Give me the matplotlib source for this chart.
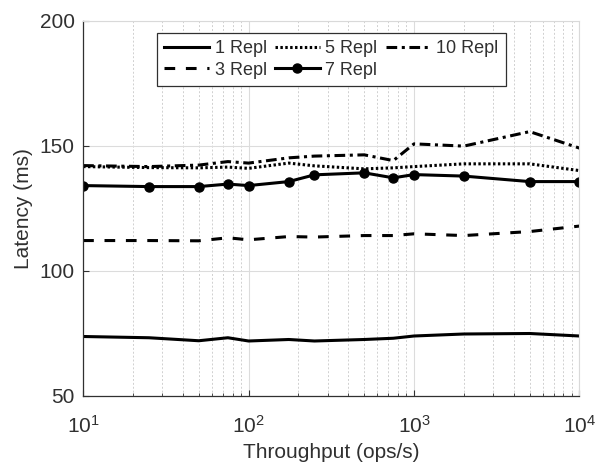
import matplotlib
matplotlib.use("Agg")
import matplotlib.pyplot as plt
from matplotlib.ticker import LogLocator, NullFormatter

plt.rcParams['font.family'] = ['Liberation Sans', 'DejaVu Sans']
plt.rcParams['mathtext.fontset'] = 'custom'
plt.rcParams['mathtext.rm'] = 'Liberation Sans'
plt.rcParams['mathtext.it'] = 'Liberation Sans:italic'

throughput = [10, 25, 50, 75, 100, 175, 250, 500, 750, 1000, 2000, 5000, 10000]
lat_1 = [73.7, 73.2, 72.0, 73.2, 71.9, 72.5, 71.9, 72.5, 73.0, 73.9, 74.7, 74.9, 73.9]
lat_3 = [112.1, 112.1, 112.0, 113.2, 112.4, 113.7, 113.5, 114.1, 114.1, 114.8, 114.1, 115.7, 117.9]
lat_5 = [141.7, 141.3, 141.2, 141.5, 141.0, 143.1, 142.0, 140.8, 141.2, 141.7, 142.8, 142.8, 140.1]
lat_7 = [134.1, 133.7, 133.7, 134.7, 134.1, 135.7, 138.4, 139.2, 137.2, 138.5, 137.9, 135.7, 135.7]
lat_10 = [142.1, 141.7, 142.3, 143.7, 143.1, 145.2, 145.9, 146.4, 144.1, 150.8, 149.9, 155.7, 149.1]

xticks = [10, 100, 1000, 10000]
xticklabels = [r'$\mathregular{10^{1}}$', r'$\mathregular{10^{2}}$', r'$\mathregular{10^{3}}$', r'$\mathregular{10^{4}}$']
yticks = [50, 100, 150, 200]

txt = '#303030'
fig = plt.figure(figsize=(5.98, 4.65), dpi=100)
ax = fig.add_axes([0.139, 0.149, 0.830, 0.806])

lw = 2.2
ax.plot(throughput, lat_1, color='black', lw=lw, ls='-', label='1 Repl')
ax.plot(throughput, lat_3, color='black', lw=lw, ls=(0, (3.5, 3.5)), label='3 Repl')
ax.plot(throughput, lat_5, color='black', lw=lw, ls=(0, (0.8, 0.8)), label='5 Repl')
ax.plot(throughput, lat_7, color='black', lw=lw, ls='-', marker='o', ms=6.5, label='7 Repl')
ax.plot(throughput, lat_10, color='black', lw=lw, ls=(0, (3.5, 1.5, 1, 1.5)), label='10 Repl')

ax.set_xscale('log')
ax.set_xlim(10, 10000)
ax.set_ylim(50, 200)
ax.set_xticks(xticks)
ax.set_xticklabels(xticklabels)
ax.xaxis.set_minor_locator(LogLocator(base=10, subs=range(2, 10)))
ax.xaxis.set_minor_formatter(NullFormatter())
ax.set_yticks(yticks)

ax.grid(True, which='major', axis='both', color='#dcdcdc', lw=0.8, ls='-')
ax.grid(True, which='minor', axis='x', color='#d0d0d0', lw=0.7, ls=(0, (2, 2)))
ax.set_axisbelow(True)

for s in ['top', 'right']:
    ax.spines[s].set_color('#d9d9d9')
    ax.spines[s].set_linewidth(0.8)
for s in ['left', 'bottom']:
    ax.spines[s].set_color(txt)
    ax.spines[s].set_linewidth(0.9)

ax.tick_params(axis='both', which='major', direction='in', length=4, width=0.8,
               colors=txt, labelsize=15, labelcolor=txt, top=False, right=False)
ax.tick_params(axis='x', which='minor', direction='in', length=2.5, width=0.6, colors=txt)
ax.tick_params(axis='x', which='major', pad=14)
ax.tick_params(axis='y', which='major', pad=6)

ax.set_xlabel('Throughput (ops/s)', fontsize=15, color=txt, labelpad=4)
ax.set_ylabel('Latency (ms)', fontsize=15, color=txt, labelpad=5)

leg = ax.legend(ncol=3, loc='upper center', bbox_to_anchor=(0.5, 0.968), fontsize=13,
                frameon=True, fancybox=False, edgecolor=txt, framealpha=1,
                handlelength=2.5, handletextpad=0.3, columnspacing=0.45,
                borderpad=0.4, labelspacing=0.25, borderaxespad=0)
leg.get_frame().set_linewidth(0.9)
for t in leg.get_texts():
    t.set_color(txt)

fig.savefig('out.png', dpi=100)
